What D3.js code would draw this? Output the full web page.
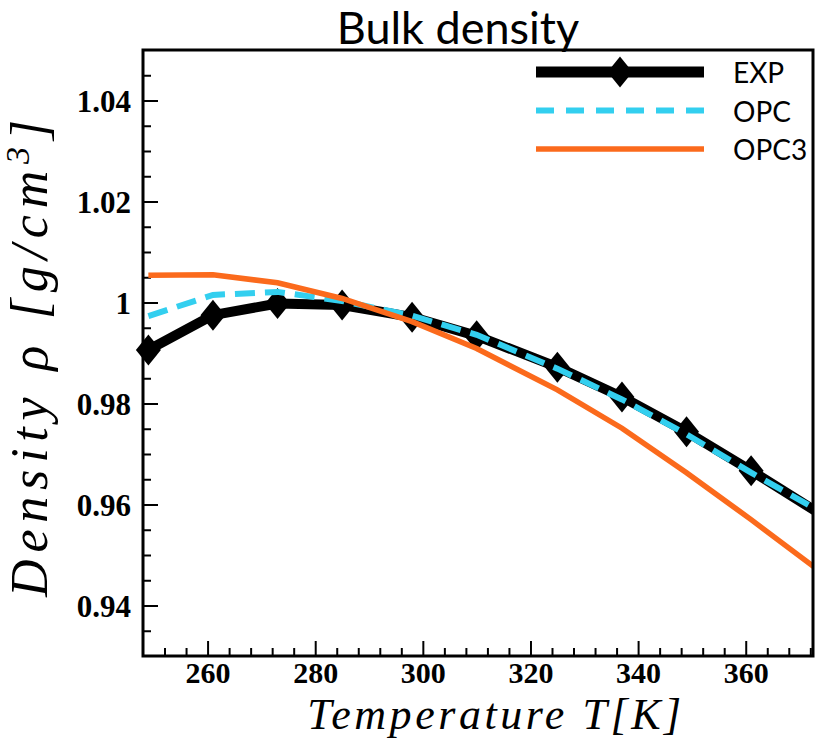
<!DOCTYPE html>
<html>
<head>
<meta charset="utf-8">
<script src="https://cdn.jsdelivr.net/npm/d3@7"></script>
<style>
  html, body { margin: 0; padding: 0; background: #fff; }
  svg { display: block; }
</style>
</head>
<body>
<svg id="chart" width="820" height="740"></svg>
<script>
// ---------------- DATA ----------------
const temperatures = [249, 261, 273, 285, 298, 310, 325, 337, 349, 361, 373];
const expDensity   = [0.9906, 0.9975, 0.9998, 0.9995, 0.9971, 0.9934, 0.9872, 0.9813, 0.9744, 0.9667, 0.9587];
const opcDensity   = [0.9973, 1.0015, 1.0021, 1.0003, 0.9974, 0.9936, 0.9869, 0.9808, 0.9739, 0.9663, 0.9591];
const opc3Density  = [1.0054, 1.0055, 1.0039, 1.0008, 0.9962, 0.9909, 0.9827, 0.9751, 0.9663, 0.9570, 0.9474];
const seriesNames  = ["EXP", "OPC", "OPC3"];
const xMajorTicks  = [260, 280, 300, 320, 340, 360];
const xTickLabels  = ["260", "280", "300", "320", "340", "360"];
const yMajorTicks  = [0.94, 0.96, 0.98, 1.00, 1.02, 1.04];
const yTickLabels  = ["0.94", "0.96", "0.98", "1", "1.02", "1.04"];
const titleText    = "Bulk density";
const xLabelText   = "Temperature T[K]";

// ---------------- LAYOUT ----------------
const svg = d3.select("#chart");
const L = 143, R = 813, T0 = 50, B = 656;
const x = d3.scaleLinear().domain([248, 372.5]).range([L, R]);
const y = d3.scaleLinear().domain([0.93, 1.05]).range([B, T0]);

const xMinor = d3.range(252, 373, 4).filter(v => !xMajorTicks.includes(v));
const yMinor = d3.range(0, 24).map(i => +(0.935 + i * 0.005).toFixed(3))
                 .filter(v => v < 1.05 && !yMajorTicks.some(m => Math.abs(m - v) < 1e-6));

const tickFont = "'Liberation Serif', 'Times New Roman', serif";
const sansFont = "Lato, 'Open Sans', sans-serif";

svg.append("defs").append("clipPath").attr("id", "plotclip")
  .append("rect").attr("x", L).attr("y", T0).attr("width", R - L).attr("height", B - T0);

// axes (ticks pointing inward)
const gxMinor = svg.append("g").attr("transform", `translate(0,${B})`)
  .call(d3.axisBottom(x).tickValues(xMinor).tickSize(-8).tickFormat(""));
const gx = svg.append("g").attr("transform", `translate(0,${B})`)
  .call(d3.axisBottom(x).tickValues(xMajorTicks).tickSize(-15)
        .tickFormat((d, i) => xTickLabels[i]));
const gyMinor = svg.append("g").attr("transform", `translate(${L},0)`)
  .call(d3.axisLeft(y).tickValues(yMinor).tickSize(-8).tickFormat(""));
const gy = svg.append("g").attr("transform", `translate(${L},0)`)
  .call(d3.axisLeft(y).tickValues(yMajorTicks).tickSize(-15)
        .tickFormat((d, i) => yTickLabels[i]));

[gxMinor, gx, gyMinor, gy].forEach(g => {
  g.select(".domain").remove();
  g.selectAll(".tick line").attr("stroke", "#000").attr("stroke-width", 2);
});
gx.selectAll(".tick text").attr("font-family", tickFont).attr("font-weight", "bold")
  .attr("font-size", 30).attr("fill", "#000").attr("dy", null).attr("y", 27);
gy.selectAll(".tick text").attr("font-family", tickFont).attr("font-weight", "bold")
  .attr("font-size", 31).attr("fill", "#000").attr("dy", "0.34em").attr("x", -12);

// series
const pts = k => temperatures.map((t, i) => ({ t, v: k[i] }));
const line = d3.line().x(d => x(d.t)).y(d => y(d.v));
const plot = svg.append("g");

plot.append("path").datum(pts(expDensity)).attr("clip-path", "url(#plotclip)")
  .attr("d", line).attr("fill", "none").attr("stroke", "#000")
  .attr("stroke-width", 10).attr("stroke-linejoin", "round");

const diamond = (cx, cy) => `M${cx},${cy - 15.5}L${cx + 12.5},${cy}L${cx},${cy + 15.5}L${cx - 12.5},${cy}Z`;
plot.selectAll(".mk").data(pts(expDensity).filter(d => d.t <= x.domain()[1]))
  .join("path").attr("class", "mk")
  .attr("d", d => diamond(x(d.t), y(d.v))).attr("fill", "#000");

plot.append("path").datum(pts(opcDensity)).attr("clip-path", "url(#plotclip)")
  .attr("d", line).attr("fill", "none").attr("stroke", "#33cfef")
  .attr("stroke-width", 6).attr("stroke-dasharray", "20,10");

plot.append("path").datum(pts(opc3Density)).attr("clip-path", "url(#plotclip)")
  .attr("d", line).attr("fill", "none").attr("stroke", "#fb6a1c")
  .attr("stroke-width", 5.5);

// frame
svg.append("rect").attr("x", L).attr("y", T0).attr("width", R - L).attr("height", B - T0)
  .attr("fill", "none").attr("stroke", "#000").attr("stroke-width", 3);

// legend
const lg = svg.append("g");
const legY = [72, 110.5, 149];
const lx0 = 536, lx1 = 704;
lg.append("line").attr("x1", lx0).attr("x2", lx1).attr("y1", legY[0]).attr("y2", legY[0])
  .attr("stroke", "#000").attr("stroke-width", 11);
lg.append("path").attr("d", diamond((lx0 + lx1) / 2, legY[0])).attr("fill", "#000");
lg.append("line").attr("x1", lx0).attr("x2", lx1).attr("y1", legY[1]).attr("y2", legY[1])
  .attr("stroke", "#33cfef").attr("stroke-width", 6).attr("stroke-dasharray", "18,12");
lg.append("line").attr("x1", lx0).attr("x2", lx1).attr("y1", legY[2]).attr("y2", legY[2])
  .attr("stroke", "#fb6a1c").attr("stroke-width", 5.5);
seriesNames.forEach((n, i) => {
  lg.append("text").attr("x", 733).attr("y", legY[i] + 11).text(n)
    .attr("font-family", sansFont).attr("font-size", 28).attr("fill", "#000");
});

// title
svg.append("text").attr("x", 458).attr("y", 44).attr("text-anchor", "middle")
  .attr("font-family", sansFont).attr("font-size", 45).attr("fill", "#000").text(titleText);

// axis labels
function fitSpacing(sel, target) {
  const n = sel.text().length;
  const len = sel.node().getComputedTextLength();
  sel.attr("letter-spacing", Math.max(0, (target - len) / (n - 1)));
}
const xl = svg.append("text").attr("x", 496).attr("y", 729).attr("text-anchor", "middle")
  .attr("font-family", tickFont).attr("font-style", "italic").attr("font-size", 44)
  .attr("fill", "#000").text(xLabelText);
fitSpacing(xl, 374);

const yl = svg.append("text").attr("transform", "translate(47,355) rotate(-90)")
  .attr("text-anchor", "middle").attr("font-family", tickFont).attr("font-style", "italic")
  .attr("font-size", 52).attr("fill", "#000");
yl.append("tspan").text("Density ρ [g/cm");
yl.append("tspan").attr("baseline-shift", "super").attr("font-size", 34).text("3");
yl.append("tspan").text("]");
fitSpacing(yl, 477);
</script>
</body>
</html>
